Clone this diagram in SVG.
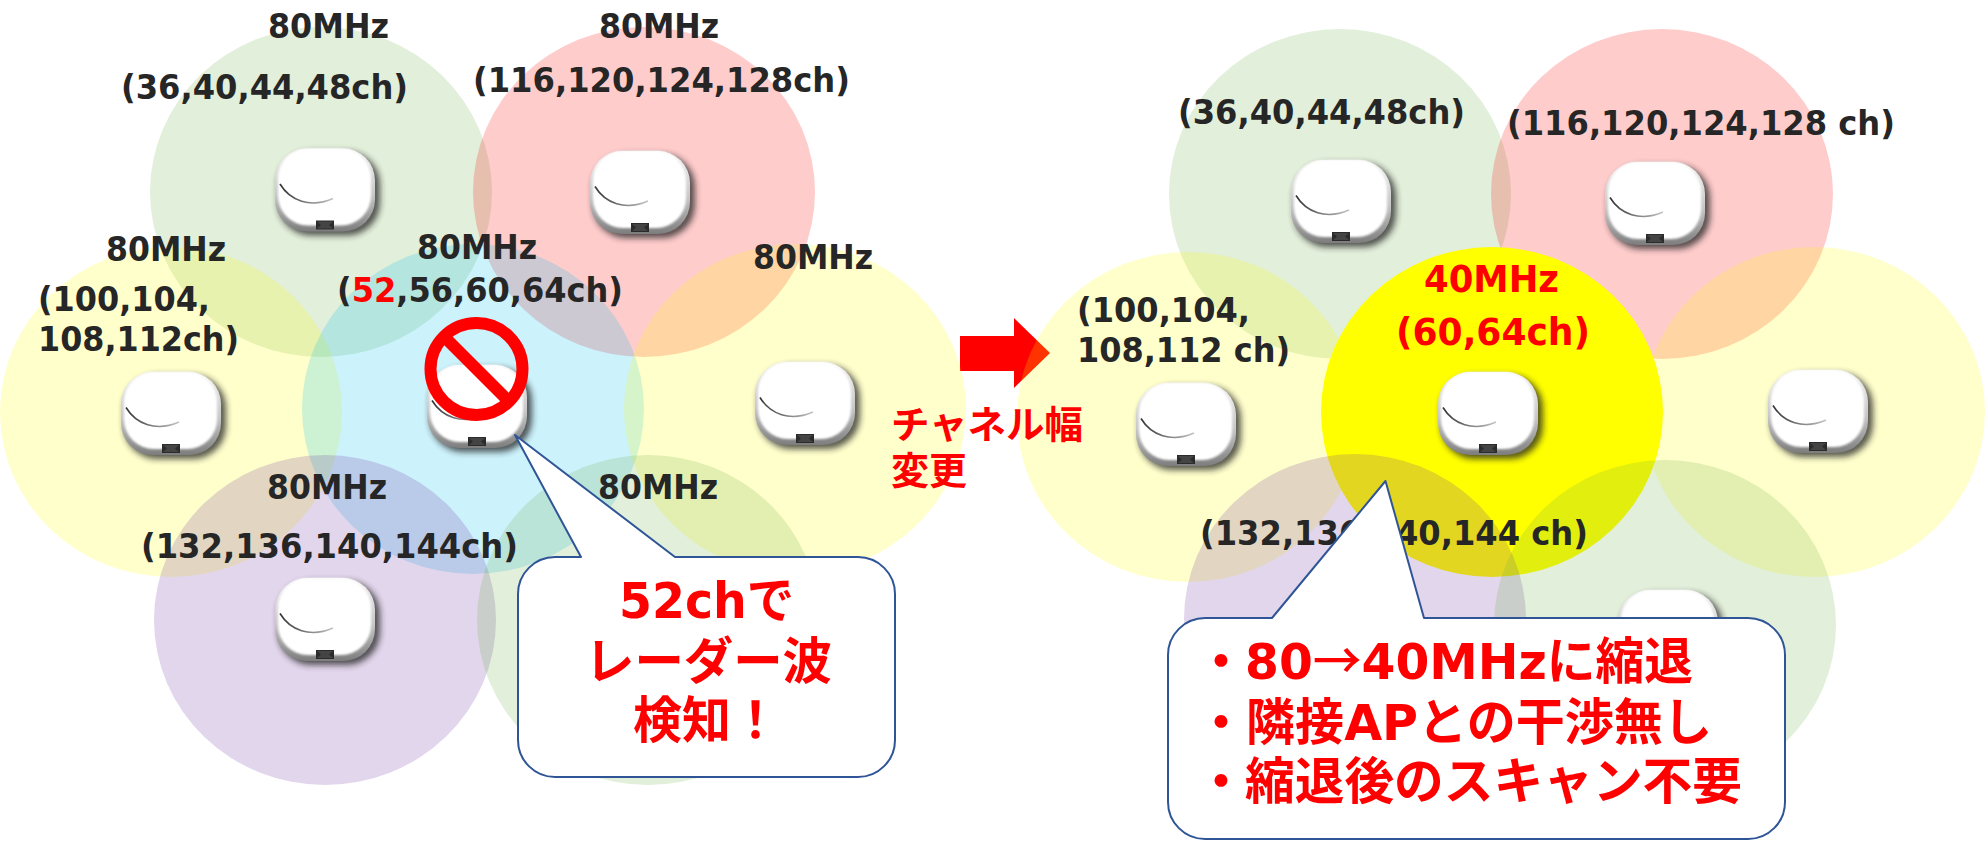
<svg xmlns="http://www.w3.org/2000/svg" xmlns:xlink="http://www.w3.org/1999/xlink" width="1985" height="850" viewBox="0 0 1985 850">
<style>
text{font-family:"DejaVu Sans","Noto Sans CJK JP",sans-serif;font-weight:700;font-size:34px;fill:#262626}
.r{fill:#f00}
.c{font-size:50px;fill:#f00}
.m{font-size:37px;fill:#f00}
.j{font-size:38px;fill:#f00}
.z{stroke:none}
.g{fill:#70ad47;fill-opacity:.2}
.p{fill:#f00;fill-opacity:.2}
.y{fill:#ff0;fill-opacity:.2}
.u{fill:#00c0f0;fill-opacity:.2}
.v{fill:#7030a0;fill-opacity:.2}
.call{fill:#fff;stroke:#2f5597;stroke-width:2;stroke-linejoin:round}
.ar{font-family:"Noto Sans CJK JP",sans-serif;font-weight:500}
</style>
<defs>
<filter id="blur" x="-30%" y="-30%" width="160%" height="160%"><feGaussianBlur stdDeviation="3"/></filter>
<filter id="soft" x="-20%" y="-20%" width="140%" height="140%"><feGaussianBlur stdDeviation="1.2"/></filter>
<linearGradient id="bezel" x1="0" y1="0" x2="0" y2="1"><stop offset="0" stop-color="#f4f4f4"/><stop offset=".55" stop-color="#c8c8c8"/><stop offset="1" stop-color="#7d7d7d"/></linearGradient>
<linearGradient id="arc" x1="0" y1="0" x2="1" y2="0"><stop offset="0" stop-color="#333"/><stop offset="1" stop-color="#c4c4c4"/></linearGradient>
<g id="ap">
<rect x="-47" y="-39" width="102" height="84" rx="33" fill="#222" opacity=".75" filter="url(#blur)"/>
<rect x="-50" y="-42" width="100" height="83" rx="32" fill="url(#bezel)"/>
<rect x="-47" y="-42" width="93" height="77" rx="30" fill="#fff" filter="url(#soft)"/>
<path d="M-45-6.500C-35 10-15 18 8 8" fill="none" stroke="url(#arc)" stroke-width="1.600"/>
<rect x="-9" y="30" width="18" height="9" fill="#2b2b2b"/>
<path d="M-8 31h16l-4 3.500 4 3.500h-16l4-3.500z" fill="#444"/>
</g>
</defs>
<rect width="1985" height="850" fill="#fff"/>
<g id="connectors">
<polygon points="960,336 1014,336 1014,318 1050,353 1014,388 1014,371 960,371" fill="#f00"/>
</g>
<g id="zones-left" class="z">
<ellipse class="g" cx="321" cy="192" rx="171" ry="165"/>
<ellipse class="p" cx="644" cy="192" rx="171" ry="165"/>
<ellipse class="y" cx="171" cy="412" rx="171" ry="165"/>
<ellipse class="u" cx="473" cy="409" rx="171" ry="165"/>
<ellipse class="y" cx="795" cy="409" rx="171" ry="165"/>
<ellipse class="v" cx="325" cy="620" rx="171" ry="165"/>
<ellipse class="g" cx="648" cy="620" rx="171" ry="165"/>
</g>
<g id="zones-right" class="z">
<ellipse class="g" cx="1340" cy="194" rx="171" ry="165"/>
<ellipse class="p" cx="1662" cy="194" rx="171" ry="165"/>
<ellipse class="y" cx="1188" cy="417" rx="171" ry="165"/>
<ellipse cx="1492" cy="412" rx="171" ry="165" fill="#ff0"/>
<ellipse class="y" cx="1814" cy="412" rx="171" ry="165"/>
<ellipse class="v" cx="1355" cy="619" rx="171" ry="165"/>
<ellipse class="g" cx="1665" cy="625" rx="171" ry="165"/>
</g>
<g id="ap-l-36">
<use xlink:href="#ap" href="#ap" x="325" y="190.500"/>
<text x="268" y="38" textLength="121" lengthAdjust="spacingAndGlyphs">80MHz</text>
<text x="121" y="99" textLength="287" lengthAdjust="spacingAndGlyphs">(36,40,44,48ch)</text>
</g>
<g id="ap-l-116">
<use xlink:href="#ap" href="#ap" x="640" y="193"/>
<text x="599" y="38" textLength="120" lengthAdjust="spacingAndGlyphs">80MHz</text>
<text x="473" y="92" textLength="377" lengthAdjust="spacingAndGlyphs">(116,120,124,128ch)</text>
</g>
<g id="ap-l-100">
<use xlink:href="#ap" href="#ap" x="171" y="414"/>
<text x="106" y="261" textLength="120" lengthAdjust="spacingAndGlyphs">80MHz</text>
<text x="38" y="311" textLength="172" lengthAdjust="spacingAndGlyphs">(100,104,</text>
<text x="38" y="351" textLength="201" lengthAdjust="spacingAndGlyphs">108,112ch)</text>
</g>
<g id="ap-l-52">
<use xlink:href="#ap" href="#ap" x="477" y="407"/>
<text x="417" y="259" textLength="120" lengthAdjust="spacingAndGlyphs">80MHz</text>
<text x="337" y="302" textLength="286" lengthAdjust="spacingAndGlyphs">(<tspan class="r">52</tspan>,56,60,64ch)</text>
<g id="no-symbol" fill="none" stroke="#f00" stroke-width="12"><circle cx="476.500" cy="369" r="46"/><line x1="444" y1="336.500" x2="509" y2="401.500"/></g>
</g>
<g id="ap-l-r">
<use xlink:href="#ap" href="#ap" x="805" y="404"/>
<text x="753" y="269" textLength="120" lengthAdjust="spacingAndGlyphs">80MHz</text>
</g>
<g id="ap-l-132">
<use xlink:href="#ap" href="#ap" x="325" y="620"/>
<text x="267" y="499" textLength="120" lengthAdjust="spacingAndGlyphs">80MHz</text>
<text x="141" y="558" textLength="377" lengthAdjust="spacingAndGlyphs">(132,136,140,144ch)</text>
</g>
<g id="ap-l-g">
<text x="598" y="499" textLength="120" lengthAdjust="spacingAndGlyphs">80MHz</text>
</g>
<g id="callout-left">
<path class="call" d="M555 557H581L515 435L675 557H858A37 37 0 0 1 895 594V740A37 37 0 0 1 858 777H555A37 37 0 0 1 518 740V594A37 37 0 0 1 555 557Z"/>
<text class="c" x="619" y="618" textLength="175" lengthAdjust="spacingAndGlyphs">52chで</text>
<text class="c" x="585" y="679" textLength="247" lengthAdjust="spacingAndGlyphs">レーダー波</text>
<text class="c" x="633" y="738" textLength="147" lengthAdjust="spacingAndGlyphs">検知！</text>
</g>
<g id="label-change">
<text class="j" x="891" y="438" textLength="192" lengthAdjust="spacingAndGlyphs">チャネル幅</text>
<text class="j" x="891" y="484" textLength="76" lengthAdjust="spacingAndGlyphs">変更</text>
</g>
<g id="ap-r-36">
<use xlink:href="#ap" href="#ap" x="1341" y="202"/>
<text x="1178" y="124" textLength="287" lengthAdjust="spacingAndGlyphs">(36,40,44,48ch)</text>
</g>
<g id="ap-r-116">
<use xlink:href="#ap" href="#ap" x="1655" y="204"/>
<text x="1507" y="135" textLength="388" lengthAdjust="spacingAndGlyphs">(116,120,124,128 ch)</text>
</g>
<g id="ap-r-100">
<use xlink:href="#ap" href="#ap" x="1186" y="425"/>
<text x="1077" y="322" textLength="173" lengthAdjust="spacingAndGlyphs">(100,104,</text>
<text x="1077" y="362" textLength="213" lengthAdjust="spacingAndGlyphs">108,112 ch)</text>
</g>
<g id="ap-r-60">
<use xlink:href="#ap" href="#ap" x="1488" y="414"/>
<text class="m" x="1424" y="292" textLength="135" lengthAdjust="spacingAndGlyphs">40MHz</text>
<text class="m" x="1396" y="345" textLength="194" lengthAdjust="spacingAndGlyphs">(60,64ch)</text>
</g>
<g id="ap-r-r">
<use xlink:href="#ap" href="#ap" x="1818" y="412"/>
</g>
<g id="ap-r-g">
<use xlink:href="#ap" href="#ap" x="1668" y="632"/>
</g>
<g id="ap-r-132">
<text x="1200" y="545" textLength="388" lengthAdjust="spacingAndGlyphs">(132,136,140,144 ch)</text>
</g>
<g id="callout-right">
<path class="call" d="M1205 618H1272L1385.500 481L1424 618H1748A37 37 0 0 1 1785 655V802A37 37 0 0 1 1748 839H1205A37 37 0 0 1 1168 802V655A37 37 0 0 1 1205 618Z"/>
<text class="c" x="1196" y="679">・</text><text class="c" x="1245" y="679" textLength="448" lengthAdjust="spacingAndGlyphs">80<tspan class="ar">→</tspan>40MHzに縮退</text>
<text class="c" x="1196" y="740">・</text><text class="c" x="1246" y="740" textLength="466" lengthAdjust="spacingAndGlyphs">隣接APとの干渉無し</text>
<text class="c" x="1196" y="799">・</text><text class="c" x="1245" y="799" textLength="497" lengthAdjust="spacingAndGlyphs">縮退後のスキャン不要</text>
</g>
</svg>
